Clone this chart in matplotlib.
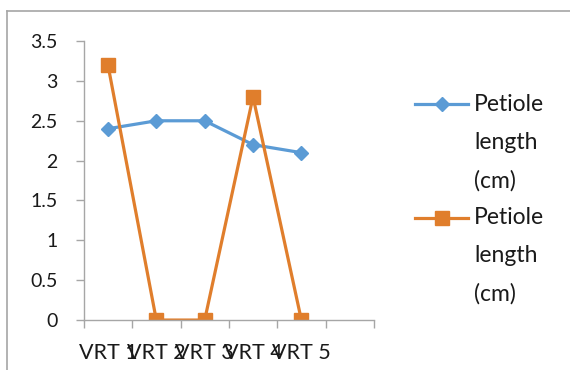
import matplotlib.pyplot as plt
from matplotlib.lines import Line2D

# category labels and the two series
cats = ['VRT 1', 'VRT 2', 'VRT 3', 'VRT 4', 'VRT 5']
petiole_a = [2.4, 2.5, 2.5, 2.2, 2.1]
petiole_b = [3.2, 0, 0, 2.8, 0]
yticks = [0, 0.5, 1, 1.5, 2, 2.5, 3, 3.5]
ytick_labels = ['0', '0.5', '1', '1.5', '2', '2.5', '3', '3.5']
series_name = 'Petiole\nlength\n(cm)'

blue = '#5B9BD5'
orange = '#E07E2C'
grey = '#A6A6A6'
txt = '#1a1a1a'

plt.rcParams['font.family'] = ['Lato', 'DejaVu Sans']

fig = plt.figure(figsize=(5.7, 3.7), dpi=100)
ax = fig.add_axes([0.147, 0.135, 0.509, 0.754])

# categories sit in the middle of each slot, one extra empty slot at the end
x = [i + 0.5 for i in range(len(cats))]
ax.plot(x, petiole_a, color=blue, lw=2.3, marker='D', ms=7,
        markeredgecolor=blue, label=series_name)
ax.plot(x, petiole_b, color=orange, lw=2.3, marker='s', ms=10,
        markeredgecolor=orange, label=series_name)

ax.set_xlim(0, len(cats) + 1)
ax.set_ylim(0, 3.5)
ax.set_yticks(yticks)
ax.set_yticklabels(ytick_labels)
ax.set_xticks(range(len(cats) + 2))
ax.set_xticklabels([])
for xi, c in zip(x, cats):
    ax.text(xi, -0.41, c, ha='center', va='center', fontsize=15.5,
            color=txt, transform=ax.transData, clip_on=False)

for s in ['top', 'right']:
    ax.spines[s].set_visible(False)
for s in ['left', 'bottom']:
    ax.spines[s].set_color(grey)
    ax.spines[s].set_linewidth(1)
ax.tick_params(axis='both', colors=grey, length=6, width=1)
ax.tick_params(axis='y', labelcolor=txt, labelsize=14, pad=13)

# legend, drawn by hand so the markers sit on the first text line
leg_x0, leg_x1 = 415 / 570, 468 / 570
for yy, ymid, col, mk, ms in [(104, 143, blue, 'D', 7),
                              (218, 256, orange, 's', 10)]:
    yf = 1 - yy / 370
    fig.add_artist(Line2D([leg_x0, leg_x1], [yf, yf], color=col, lw=2.3,
                          transform=fig.transFigure))
    fig.add_artist(Line2D([(leg_x0 + leg_x1) / 2], [yf], color=col, marker=mk,
                          ms=ms, transform=fig.transFigure))
    fig.text(474 / 570, 1 - ymid / 370, series_name, ha='left', va='center',
             fontsize=16.5, color=txt, linespacing=2.0)

# chart area border
fig.add_artist(Line2D([7 / 570, 1], [1 - 11 / 370, 1 - 11 / 370], color=grey,
                      lw=1.2, transform=fig.transFigure))
fig.add_artist(Line2D([7 / 570, 7 / 570], [0, 1 - 11 / 370], color=grey,
                      lw=1.2, transform=fig.transFigure))

fig.savefig('out.png', dpi=100)
